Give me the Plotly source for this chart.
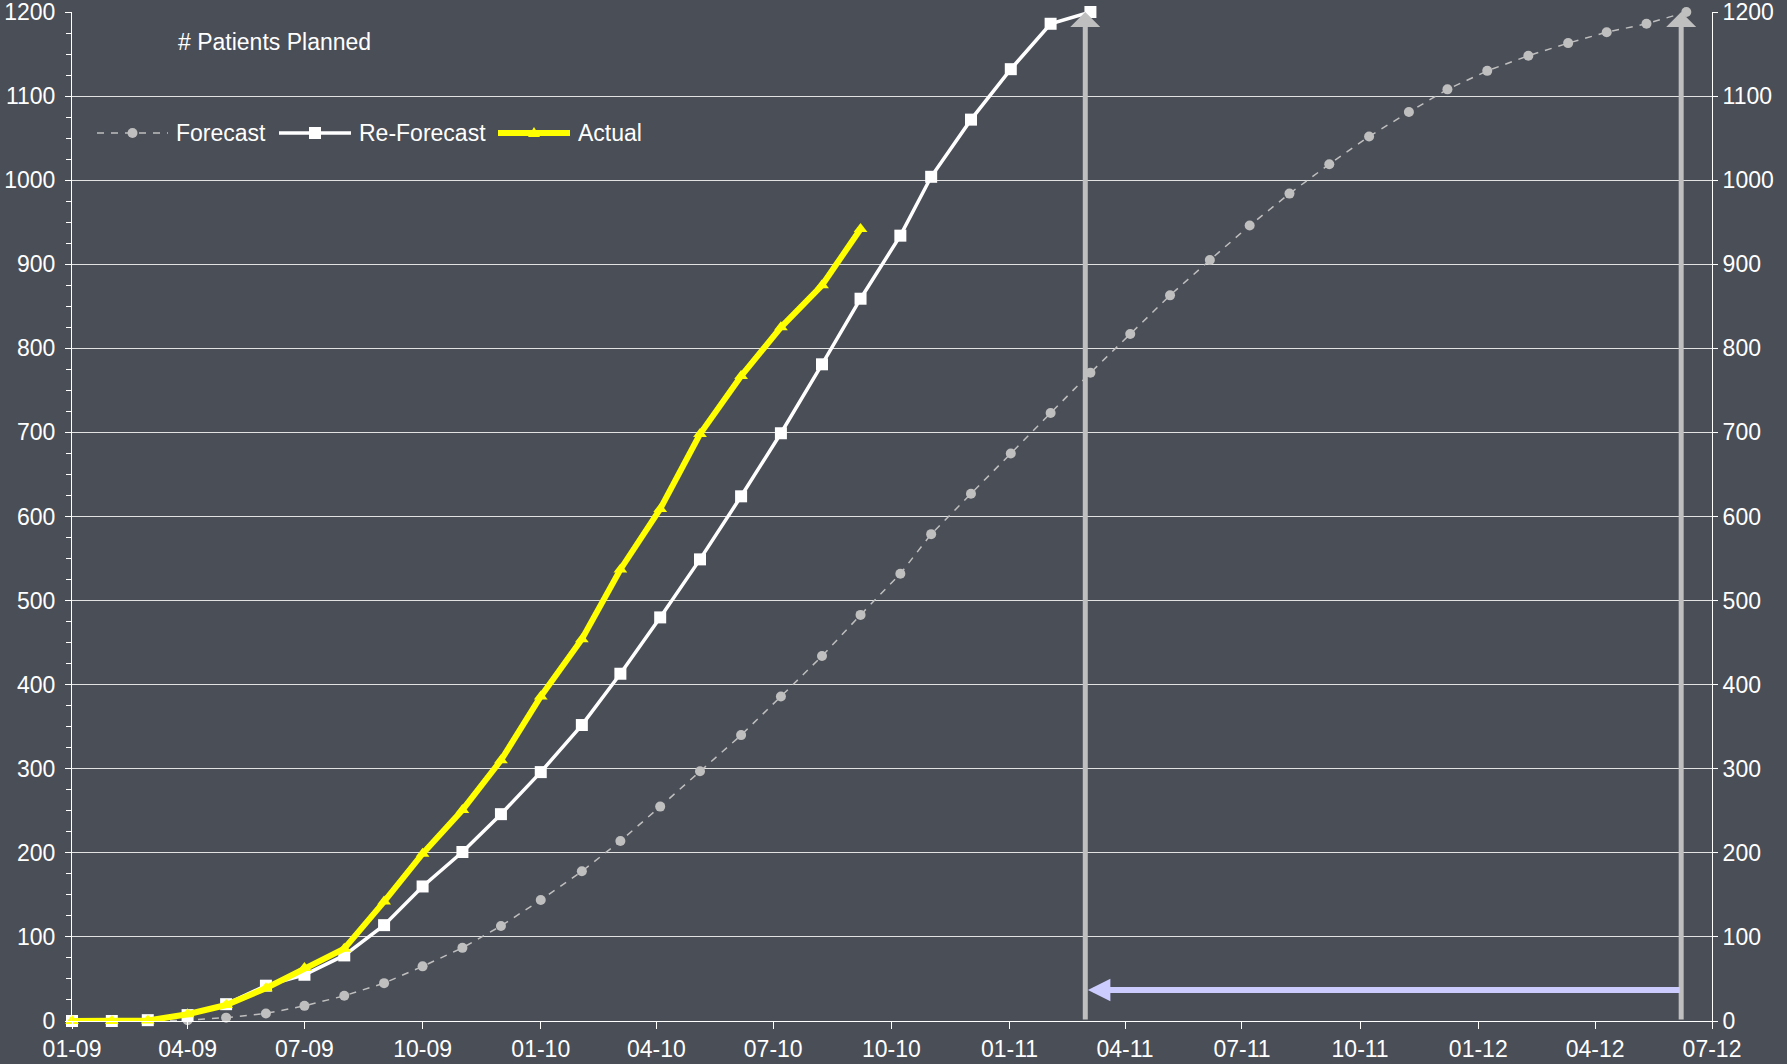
import plotly.graph_objects as go

# Reporting dates (one per month, as recorded)
dates = [
    "2009-01-01", "2009-02-01", "2009-03-01", "2009-04-01", "2009-05-01", "2009-06-01",
    "2009-07-01", "2009-08-01", "2009-09-01", "2009-10-01", "2009-11-01", "2009-12-01",
    "2010-01-01", "2010-02-02", "2010-03-04", "2010-04-04", "2010-05-05", "2010-06-06",
    "2010-07-07", "2010-08-08", "2010-09-07", "2010-10-08", "2010-11-01", "2010-12-02",
    "2011-01-02", "2011-02-02", "2011-03-05", "2011-04-05", "2011-05-06", "2011-06-06",
    "2011-07-07", "2011-08-07", "2011-09-07", "2011-10-08", "2011-11-08", "2011-12-08",
    "2012-01-08", "2012-02-09", "2012-03-11", "2012-04-10", "2012-05-11", "2012-06-11",
]

# Cumulative number of patients planned
forecast = [
    0, 0, 0, 1, 4, 9, 18, 30, 45, 65, 87, 113,
    144, 178, 214, 255, 297, 340, 386, 434, 483, 532, 579, 627,
    675, 723, 771, 817, 863, 905, 946, 984, 1019, 1052, 1081, 1108,
    1130, 1148, 1163, 1176, 1186, 1200,
]
reforecast = [
    0, 0, 1, 7, 20, 42, 55, 78, 114, 160, 201, 246,
    296, 352, 413, 480, 549, 624, 699, 781, 859, 934, 1004, 1072,
    1132, 1186, 1200,
]
actual = [
    0, 0, 0.5, 8, 19, 39, 63, 86, 142, 199, 251, 310,
    386, 454, 537, 609, 698, 767, 825, 875, 942,
]

series_names = ["Forecast", "Re-Forecast", "Actual"]

# Completion dates: re-forecast vs. original forecast
reforecast_end = "2011-03-01"
forecast_end = "2012-06-07"
gap_level = 37

BG = "#4a4e57"
FONT = "Liberation Sans, Arial, sans-serif"
FS = 23

W, H = 1787, 1064
ML, MR, MT, MB = 72, 75, 12, 43
PW, PH = W - ML - MR, H - MT - MB

styles = {
    "Forecast": dict(color="#bfbfbf", width=1.5, dash="7px,7px", symbol="circle", size=10, yaxis="y"),
    "Re-Forecast": dict(color="#ffffff", width=3.5, dash="solid", symbol="square", size=12, yaxis="y"),
    # Actual sits on the (identically scaled) right axis so it is drawn on top
    "Actual": dict(color="#ffff00", width=6, dash="solid", symbol="triangle-up", size=12, yaxis="y2"),
}

fig = go.Figure()
for name, ys in zip(series_names, [forecast, reforecast, actual]):
    s = styles[name]
    fig.add_trace(go.Scatter(
        x=dates[:len(ys)], y=ys, name=name, mode="lines+markers", yaxis=s["yaxis"],
        line=dict(color=s["color"], width=s["width"], dash=s["dash"]),
        marker=dict(symbol=s["symbol"], size=s["size"], color=s["color"]),
        cliponaxis=False, showlegend=False,
    ))


def px_x(px):
    return (px - ML) / PW


def px_y(py):
    return (H - MB - py) / PH


shapes = []
annotations = []

# Key drawn along the top-left of the plot area
key_y = px_y(133)
key_items = [("Forecast", 97, 168, 174), ("Re-Forecast", 279, 351, 357), ("Actual", 498, 570, 576)]
for name, lx0, lx1, tx in key_items:
    s = styles[name]
    shapes.append(dict(type="line", xref="paper", yref="paper", x0=px_x(lx0), x1=px_x(lx1),
                       y0=key_y, y1=key_y,
                       line=dict(color=s["color"], width=s["width"], dash=s["dash"])))
    cx = px_x((lx0 + lx1) / 2)
    common = dict(xref="paper", yref="paper", xsizemode="pixel", ysizemode="pixel",
                  xanchor=cx, yanchor=key_y, fillcolor=s["color"], line=dict(width=0))
    if s["symbol"] == "circle":
        shapes.append(dict(type="circle", x0=-5, x1=5, y0=-5, y1=5, **common))
    elif s["symbol"] == "square":
        shapes.append(dict(type="rect", x0=-6, x1=6, y0=-6, y1=6, **common))
    else:
        shapes.append(dict(type="path", path="M-6,-4 L6,-4 L0,6 Z", **common))
    annotations.append(dict(text=name, xref="paper", yref="paper", x=px_x(tx), y=key_y,
                            xanchor="left", yanchor="middle", showarrow=False,
                            font=dict(family=FONT, size=FS, color="#ffffff")))

arrows = [
    dict(x=reforecast_end, y=1200, ax=reforecast_end, ay=0,
         arrowcolor="#bfbfbf", arrowwidth=5, arrowhead=1, arrowsize=1),
    dict(x=forecast_end, y=1200, ax=forecast_end, ay=0,
         arrowcolor="#bfbfbf", arrowwidth=5, arrowhead=1, arrowsize=1),
    dict(x="2011-03-03", y=gap_level, ax=forecast_end, ay=gap_level,
         arrowcolor="#ccccff", arrowwidth=6, arrowhead=2, arrowsize=0.75),
]
for a in arrows:
    a.update(xref="x", yref="y", axref="x", ayref="y", text="", showarrow=True)
    annotations.append(a)

annotations.append(dict(
    text="# Patients Planned", xref="paper", yref="paper", x=px_x(176), y=px_y(42),
    xanchor="left", yanchor="middle", showarrow=False,
    font=dict(family=FONT, size=FS, color="#ffffff"),
))

axis_common = dict(tickcolor="#ffffff", linecolor="#ffffff", linewidth=1,
                   ticklabeloverflow="allow",
                   tickfont=dict(family=FONT, size=FS, color="#ffffff"))

fig.update_layout(
    width=W, height=H,
    margin=dict(l=ML, r=MR, t=MT, b=MB, autoexpand=False),
    paper_bgcolor=BG, plot_bgcolor=BG,
    font=dict(family=FONT, size=FS, color="#ffffff"),
    showlegend=False,
    xaxis=dict(type="date", range=["2009-01-01", "2012-07-01"], tick0="2009-01-01",
               dtick="M3", tickformat="%m-%y", ticks="outside", ticklen=7,
               ticklabelstandoff=0,
               showline=True, showgrid=False, zeroline=False, **axis_common),
    yaxis=dict(range=[0, 1200], dtick=100, ticks="outside", ticklen=6,
               ticklabelstandoff=5,
               showline=True, showgrid=True, gridcolor="#e2e2e2", gridwidth=1,
               zeroline=False,
               minor=dict(dtick=25, ticks="outside", ticklen=5, tickcolor="#ffffff",
                          showgrid=False),
               **axis_common),
    yaxis2=dict(overlaying="y", side="right", range=[0, 1200], dtick=100,
                ticks="outside", ticklen=5, showline=True, showgrid=False,
                zeroline=False, **axis_common),
    shapes=shapes,
    annotations=annotations,
)

fig.write_html("out.html")
